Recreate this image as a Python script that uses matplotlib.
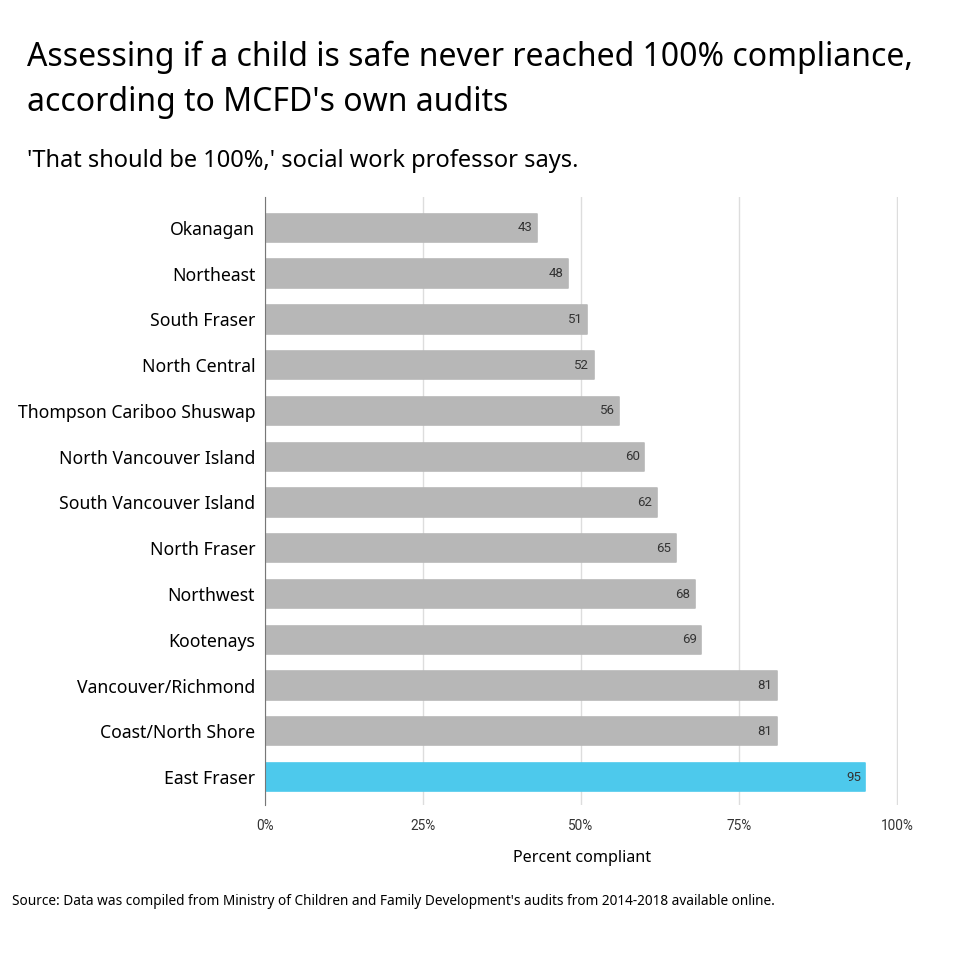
import matplotlib.pyplot as plt

regions = ["Okanagan", "Northeast", "South Fraser", "North Central",
           "Thompson Cariboo Shuswap", "North Vancouver Island",
           "South Vancouver Island", "North Fraser", "Northwest", "Kootenays",
           "Vancouver/Richmond", "Coast/North Shore", "East Fraser"]
compliance = [43, 48, 51, 52, 56, 60, 62, 65, 68, 69, 81, 81, 95]
xticks = [0, 25, 50, 75, 100]
xtick_labels = ["0%", "25%", "50%", "75%", "100%"]

plt.rcParams['font.family'] = ['Noto Sans', 'DejaVu Sans']

fig = plt.figure(figsize=(9.6, 9.6), dpi=100)
ax = fig.add_axes([0.276, 0.1615, 0.6597, 0.6335])

colors = ['#b7b7b7'] * (len(regions) - 1) + ['#4dc9ec']
pos = list(range(len(regions)))
bars = ax.barh(pos, compliance, height=0.62, color=colors, zorder=2)
for b, c in zip(bars, colors):
    b.set_edgecolor(c)
    b.set_linewidth(1.2)
    b.set_joinstyle('round')
for p, v in zip(pos, compliance):
    ax.text(v - 0.7, p, str(v), ha='right', va='center', fontsize=9.5,
            color='#333333', family='Roboto', zorder=3)

ax.set_ylim(12.61, -0.68)
ax.set_xlim(0, 100.2)
ax.set_yticks(pos)
ax.set_yticklabels(regions, fontsize=12.7)
ax.set_xticks(xticks)
ax.set_xticklabels(xtick_labels, fontsize=9.8, family='Roboto', color='#333333')
ax.tick_params(axis='y', length=0, pad=7)
ax.tick_params(axis='x', length=0, pad=10)
ax.grid(axis='x', color='#dddddd', linewidth=1, zorder=0)
for s in ['top', 'right', 'bottom']:
    ax.spines[s].set_visible(False)
ax.spines['left'].set_color('#777777')
ax.set_xlabel("Percent compliant", fontsize=11.6, labelpad=12)

fig.text(0.028, 0.940, "Assessing if a child is safe never reached 100% compliance,",
         fontsize=23, va='center')
fig.text(0.028, 0.893, "according to MCFD's own audits", fontsize=23, va='center')
fig.text(0.028, 0.832, "'That should be 100%,' social work professor says.",
         fontsize=17, va='center')
fig.text(0.013, 0.061, "Source: Data was compiled from Ministry of Children and Family "
         "Development's audits from 2014-2018 available online.",
         fontsize=9.8, va='center')

fig.savefig('out.png', dpi=100, facecolor='white')
